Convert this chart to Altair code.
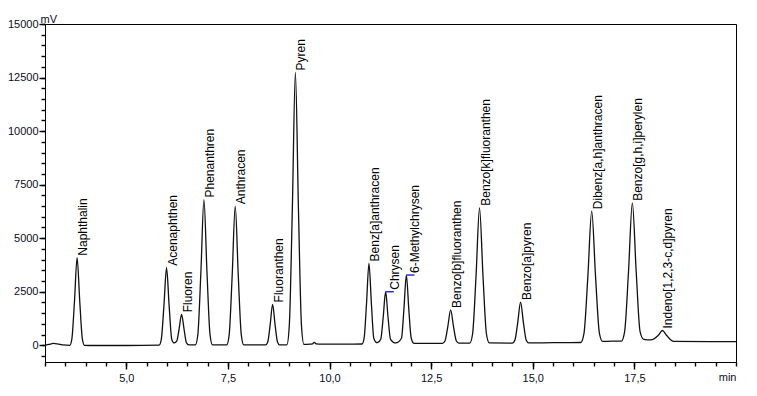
import altair as alt
import pandas as pd

# ---- chromatogram trace (time in min, signal in mV) ----
trace_t = [
    3.00, 3.10, 3.20, 3.30, 3.45,
    3.61, 3.66, 3.725, 3.79, 3.855, 3.92, 3.97,
    4.20, 5.00,
    5.81, 5.86, 5.925, 5.99, 6.055, 6.12, 6.18,
    6.24, 6.30, 6.36, 6.42, 6.48, 6.54,
    6.70, 6.76, 6.835, 6.91, 6.985, 7.06, 7.12,
    7.47, 7.53, 7.605, 7.68, 7.755, 7.83, 7.89,
    8.43, 8.48, 8.54, 8.60, 8.66, 8.72, 8.77,
    8.95, 9.01, 9.085, 9.16, 9.235, 9.31, 9.37,
    9.52, 9.58, 9.62, 9.67, 9.80, 10.40,
    10.80, 10.85, 10.91, 10.97, 11.03, 11.09, 11.17,
    11.26, 11.32, 11.38, 11.44, 11.50, 11.63,
    11.77, 11.83, 11.89, 11.95, 12.01, 12.08,
    12.78, 12.84, 12.91, 12.98, 13.05, 13.12, 13.18,
    13.45, 13.52, 13.605, 13.69, 13.775, 13.86, 13.93,
    14.50, 14.56, 14.63, 14.70, 14.77, 14.84, 14.90,
    15.50,
    16.18, 16.26, 16.355, 16.45, 16.545, 16.64, 16.72,
    16.95,
    17.18, 17.26, 17.355, 17.45, 17.545, 17.64, 17.73,
    17.90, 18.09, 18.19, 18.29, 18.39, 18.48,
    20.00,
]
trace_v = [
    0, 40, 85, 70, 15,
    0, 286, 2045, 4090, 2045, 286, 0,
    -10, -10,
    10, 263, 1815, 3620, 1815, 263, 110,
    190, 770, 1445, 770, 110, 20,
    20, 495, 3410, 6805, 3410, 495, 20,
    20, 475, 3260, 6495, 3260, 475, 20,
    20, 150, 965, 1910, 965, 150, 20,
    20, 910, 6380, 12740, 6380, 910, 40,
    50, 70, 140, 70, 50, 55,
    60, 320, 1940, 3820, 1940, 320, 120,
    280, 1300, 2500, 1300, 280, 110,
    330, 1690, 3280, 1690, 330, 90,
    90, 200, 870, 1650, 870, 200, 100,
    100, 540, 3260, 6420, 3260, 540, 110,
    100, 235, 1060, 2020, 1060, 235, 110,
    120,
    130, 560, 3195, 6260, 3195, 560, 180,
    190,
    190, 640, 3420, 6650, 3420, 640, 280,
    250, 470, 690, 470, 260, 180,
    170,
]

# ---- peak annotations ----
peak_names = [
    "Naphthalin", "Acenaphthen", "Fluoren", "Phenanthren", "Anthracen",
    "Fluoranthen", "Pyren", "Benz[a]anthracen", "Chrysen", "6-Methylchrysen",
    "Benzo[b]fluoranthen", "Benzo[k]fluoranthen", "Benzo[a]pyren",
    "Dibenz[a,h]anthracen", "Benzo[g,h,i]perylen", "Indeno[1,2,3-c,d]pyren",
]
peak_t = [3.79, 5.99, 6.36, 6.91, 7.68, 8.60, 9.16, 10.97, 11.38, 11.89,
          12.98, 13.69, 14.70, 16.45, 17.45, 18.19]
peak_h = [4090, 3620, 1445, 6805, 6495, 1910, 12740, 3820, 2500, 3280,
          1650, 6420, 2020, 6260, 6650, 690]
leader_peaks = ["Chrysen", "6-Methylchrysen"]

# ---- axis tick values ----
x_major = [5.0, 7.5, 10.0, 12.5, 15.0, 17.5]
x_minor = [3.0 + 0.5 * i for i in range(35)]      # 3.0 ... 20.0
y_major = [0, 2500, 5000, 7500, 10000, 12500, 15000]
y_minor = list(range(-500, 15001, 500))

trace = pd.DataFrame({"t": trace_t, "v": trace_v})
peaks = pd.DataFrame({"name": peak_names, "t": peak_t, "h": peak_h})

FONT = "Liberation Sans"
INK = "#0c0c24"

xscale = alt.Scale(domain=[3, 20], nice=False, zero=False)
yscale = alt.Scale(domain=[-780, 15000], nice=False, zero=False)

x_axis = alt.Axis(
    orient="bottom", values=x_major,
    labelExpr="replace(format(datum.value, '.1f'), '.', ',')",
    labelOverlap=False, labelFlush=False,
    labelFont=FONT, labelFontSize=11, labelColor=INK, labelPadding=3,
    tickSize=7, tickWidth=1.4, tickColor="#000000",
    domainColor="#000000", grid=False,
    title="min", titleX=691, titleY=18, titleAlign="right",
    titleBaseline="alphabetic", titleFont=FONT, titleFontSize=11,
    titleFontWeight="normal", titleColor=INK,
)
y_axis = alt.Axis(
    orient="left", values=y_major, format="d",
    labelOverlap=False, labelFlush=False,
    labelFont=FONT, labelFontSize=11, labelColor=INK, labelPadding=1,
    tickSize=6, tickWidth=1.4, tickColor="#000000",
    domainColor="#000000", grid=False,
    title="mV", titleAngle=0, titleX=-5, titleY=-2, titleAlign="left",
    titleBaseline="alphabetic", titleFont=FONT, titleFontSize=11,
    titleFontWeight="normal", titleColor=INK,
)
x_axis_minor = alt.Axis(
    orient="bottom", values=x_minor, labels=False, domain=False, grid=False,
    tickSize=4, tickWidth=1.4, tickColor="#000000", title=None,
)
y_axis_minor = alt.Axis(
    orient="left", values=y_minor, labels=False, domain=False, grid=False,
    tickSize=4, tickWidth=1.4, tickColor="#000000", title=None,
)

line = alt.Chart(trace).mark_line(
    color="#111111", strokeWidth=1.3, interpolate="monotone"
).encode(
    x=alt.X("t:Q", scale=xscale, axis=x_axis),
    y=alt.Y("v:Q", scale=yscale, axis=y_axis),
)

minor_ticks = alt.Chart(trace).mark_point(opacity=0).encode(
    x=alt.X("t:Q", scale=xscale, axis=x_axis_minor),
    y=alt.Y("v:Q", scale=yscale, axis=y_axis_minor),
)

labels = alt.Chart(peaks).transform_filter(
    ~alt.FieldOneOfPredicate(field="name", oneOf=leader_peaks)
).mark_text(
    angle=270, align="left", baseline="top", dx=2, dy=1,
    font=FONT, fontSize=12, color="black",
).encode(
    x=alt.X("t:Q", scale=xscale, axis=None),
    y=alt.Y("h:Q", scale=yscale, axis=None),
    text="name:N",
)

shifted_labels = alt.Chart(peaks).transform_filter(
    alt.FieldOneOfPredicate(field="name", oneOf=leader_peaks)
).mark_text(
    angle=270, align="left", baseline="top", dx=2, dy=4,
    font=FONT, fontSize=12, color="black",
).encode(
    x=alt.X("t:Q", scale=xscale, axis=None),
    y=alt.Y("h:Q", scale=yscale, axis=None),
    text="name:N",
)

leaders = alt.Chart(peaks).transform_filter(
    alt.FieldOneOfPredicate(field="name", oneOf=leader_peaks)
).transform_calculate(
    t_end="datum.t + 0.2"
).mark_rule(color="#2020d0", strokeWidth=1.4).encode(
    x=alt.X("t:Q", scale=xscale, axis=None), x2="t_end:Q",
    y=alt.Y("h:Q", scale=yscale, axis=None),
)

chart = alt.layer(
    minor_ticks, line, leaders, labels, shifted_labels
).resolve_axis(x="independent", y="independent").properties(
    width=691, height=338,
    autosize=alt.AutoSizeParams(type="none"),
    padding={"left": 37, "top": 16, "right": 13, "bottom": 26},
    background="white",
).configure_view(stroke="black", strokeWidth=1)

chart.save("out.html", embed_options={"renderer": "svg", "actions": False})
